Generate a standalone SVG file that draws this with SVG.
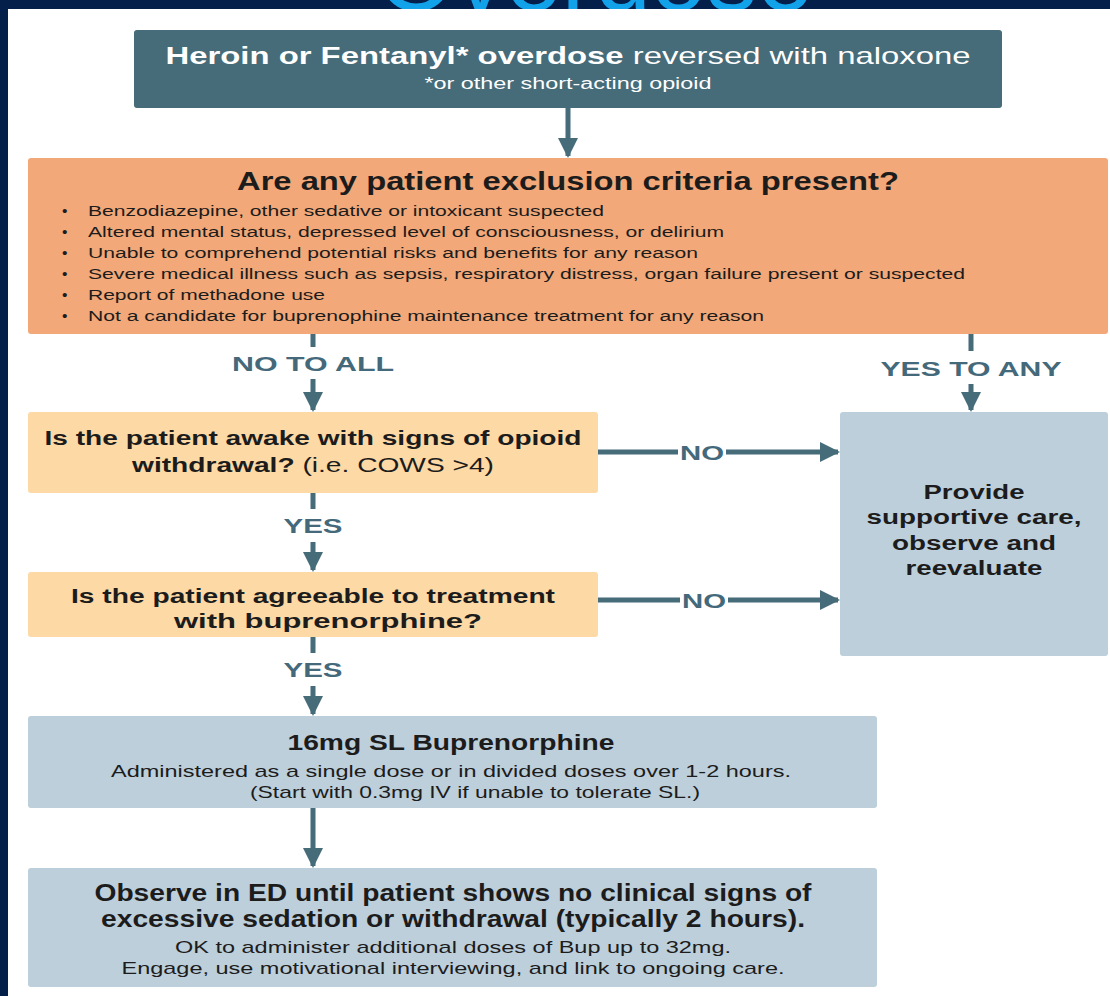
<svg xmlns="http://www.w3.org/2000/svg" width="1110" height="996" viewBox="0 0 1110 996">
<defs>
<style>
.t{font-family:"Liberation Sans",Arial,sans-serif}
.b{font-weight:bold}
.w{fill:#ffffff}
.k{fill:#1c1c1c}
.lbl{font-family:"Liberation Sans",Arial,sans-serif;font-weight:bold;fill:#44697a;font-size:21px}
.ln{stroke:#466b79;stroke-width:5;fill:none}
</style>
<marker id="ah" viewBox="0 0 10 10" refX="9" refY="5" markerWidth="4" markerHeight="4" markerUnits="strokeWidth" orient="auto">
<path d="M0,0 L10,5 L0,10 Z" fill="#466b79"/>
</marker>
<clipPath id="topclip"><rect x="0" y="0" width="1110" height="9"/></clipPath>
</defs>
<rect x="0" y="0" width="1110" height="996" fill="#04204a"/>
<text class="t" x="595" y="10" font-size="100" fill="#12a2ea" text-anchor="middle" textLength="436" lengthAdjust="spacingAndGlyphs" clip-path="url(#topclip)">Overdose</text>
<rect x="8" y="9" width="1102" height="987" fill="#ffffff"/>

<g id="connectors">
<line class="ln" x1="568" y1="108" x2="568" y2="156" marker-end="url(#ah)"/>
<line class="ln" x1="313" y1="334" x2="313" y2="347"/>
<text class="lbl" x="313" y="371" text-anchor="middle" textLength="162" lengthAdjust="spacingAndGlyphs">NO TO ALL</text>
<line class="ln" x1="313" y1="379" x2="313" y2="410" marker-end="url(#ah)"/>
<line class="ln" x1="971" y1="334" x2="971" y2="351"/>
<text class="lbl" x="971" y="376" text-anchor="middle" textLength="181" lengthAdjust="spacingAndGlyphs">YES TO ANY</text>
<line class="ln" x1="971" y1="384" x2="971" y2="410" marker-end="url(#ah)"/>
<line class="ln" x1="598" y1="452" x2="678" y2="452"/>
<text class="lbl" x="702" y="460" text-anchor="middle" textLength="44" lengthAdjust="spacingAndGlyphs">NO</text>
<line class="ln" x1="726" y1="452" x2="838" y2="452" marker-end="url(#ah)"/>
<line class="ln" x1="313" y1="493" x2="313" y2="509"/>
<text class="lbl" x="313" y="533" text-anchor="middle" textLength="59" lengthAdjust="spacingAndGlyphs">YES</text>
<line class="ln" x1="313" y1="542" x2="313" y2="570" marker-end="url(#ah)"/>
<line class="ln" x1="598" y1="600" x2="680" y2="600"/>
<text class="lbl" x="704" y="608" text-anchor="middle" textLength="44" lengthAdjust="spacingAndGlyphs">NO</text>
<line class="ln" x1="728" y1="600" x2="838" y2="600" marker-end="url(#ah)"/>
<line class="ln" x1="313" y1="637" x2="313" y2="653"/>
<text class="lbl" x="313" y="677" text-anchor="middle" textLength="59" lengthAdjust="spacingAndGlyphs">YES</text>
<line class="ln" x1="313" y1="686" x2="313" y2="714" marker-end="url(#ah)"/>
<line class="ln" x1="313" y1="808" x2="313" y2="866" marker-end="url(#ah)"/>
</g>

<g id="start">
<rect x="134" y="30" width="868" height="78" rx="3" fill="#466b79"/>
<text class="t w" x="568" y="64" font-size="24" text-anchor="middle" textLength="805" lengthAdjust="spacingAndGlyphs"><tspan class="b">Heroin or Fentanyl* overdose</tspan> reversed with naloxone</text>
<text class="t w" x="568" y="89" font-size="16" text-anchor="middle" textLength="287" lengthAdjust="spacingAndGlyphs">*or other short-acting opioid</text>
</g>

<g id="exclusion">
<rect x="28" y="158" width="1080" height="176" rx="3" fill="#f2a878"/>
<text class="t b k" x="568" y="190" font-size="25" text-anchor="middle" textLength="662" lengthAdjust="spacingAndGlyphs">Are any patient exclusion criteria present?</text>
<g class="t k" font-size="15.5">
<text x="62" y="216">•</text><text x="88" y="216" textLength="516" lengthAdjust="spacingAndGlyphs">Benzodiazepine, other sedative or intoxicant suspected</text>
<text x="62" y="237">•</text><text x="88" y="237" textLength="636" lengthAdjust="spacingAndGlyphs">Altered mental status, depressed level of consciousness, or delirium</text>
<text x="62" y="258">•</text><text x="88" y="258" textLength="610" lengthAdjust="spacingAndGlyphs">Unable to comprehend potential risks and benefits for any reason</text>
<text x="62" y="279">•</text><text x="88" y="279" textLength="877" lengthAdjust="spacingAndGlyphs">Severe medical illness such as sepsis, respiratory distress, organ failure present or suspected</text>
<text x="62" y="300">•</text><text x="88" y="300" textLength="237" lengthAdjust="spacingAndGlyphs">Report of methadone use</text>
<text x="62" y="321">•</text><text x="88" y="321" textLength="676" lengthAdjust="spacingAndGlyphs">Not a candidate for buprenophine maintenance treatment for any reason</text>
</g>
</g>

<g id="awake">
<rect x="28" y="412" width="570" height="81" rx="3" fill="#fdd9a5"/>
<text class="t b k" x="313" y="445" font-size="20" text-anchor="middle" textLength="537" lengthAdjust="spacingAndGlyphs">Is the patient awake with signs of opioid</text>
<text class="t k" x="313" y="472" font-size="20" text-anchor="middle" textLength="362" lengthAdjust="spacingAndGlyphs"><tspan class="b">withdrawal?</tspan> (i.e. COWS &gt;4)</text>
</g>

<g id="agreeable">
<rect x="28" y="572" width="570" height="65" rx="3" fill="#fdd9a5"/>
<text class="t b k" x="313" y="603" font-size="20" text-anchor="middle" textLength="484" lengthAdjust="spacingAndGlyphs">Is the patient agreeable to treatment</text>
<text class="t b k" x="328" y="628" font-size="20" text-anchor="middle" textLength="308" lengthAdjust="spacingAndGlyphs">with buprenorphine?</text>
</g>

<g id="supportive">
<rect x="840" y="412" width="268" height="244" rx="3" fill="#bccfdb"/>
<g class="t b k" font-size="20" text-anchor="middle">
<text x="974" y="499" textLength="101" lengthAdjust="spacingAndGlyphs">Provide</text>
<text x="974" y="524" textLength="215" lengthAdjust="spacingAndGlyphs">supportive care,</text>
<text x="974" y="550" textLength="164" lengthAdjust="spacingAndGlyphs">observe and</text>
<text x="974" y="575" textLength="137" lengthAdjust="spacingAndGlyphs">reevaluate</text>
</g>
</g>

<g id="dose">
<rect x="28" y="716" width="849" height="92" rx="3" fill="#bccfdb"/>
<text class="t b k" x="451" y="750" font-size="22" text-anchor="middle" textLength="327" lengthAdjust="spacingAndGlyphs">16mg SL Buprenorphine</text>
<text class="t k" x="451" y="777" font-size="17" text-anchor="middle" textLength="680" lengthAdjust="spacingAndGlyphs">Administered as a single dose or in divided doses over 1-2 hours.</text>
<text class="t k" x="475" y="798" font-size="17" text-anchor="middle" textLength="450" lengthAdjust="spacingAndGlyphs">(Start with 0.3mg IV if unable to tolerate SL.)</text>
</g>

<g id="observe">
<rect x="28" y="868" width="849" height="119" rx="3" fill="#bccfdb"/>
<text class="t b k" x="453" y="901" font-size="23" text-anchor="middle" textLength="717" lengthAdjust="spacingAndGlyphs">Observe in ED until patient shows no clinical signs of</text>
<text class="t b k" x="453" y="927" font-size="23" text-anchor="middle" textLength="704" lengthAdjust="spacingAndGlyphs">excessive sedation or withdrawal (typically 2 hours).</text>
<text class="t k" x="453" y="953" font-size="17" text-anchor="middle" textLength="556" lengthAdjust="spacingAndGlyphs">OK to administer additional doses of Bup up to 32mg.</text>
<text class="t k" x="453" y="974" font-size="17" text-anchor="middle" textLength="663" lengthAdjust="spacingAndGlyphs">Engage, use motivational interviewing, and link to ongoing care.</text>
</g>
</svg>
